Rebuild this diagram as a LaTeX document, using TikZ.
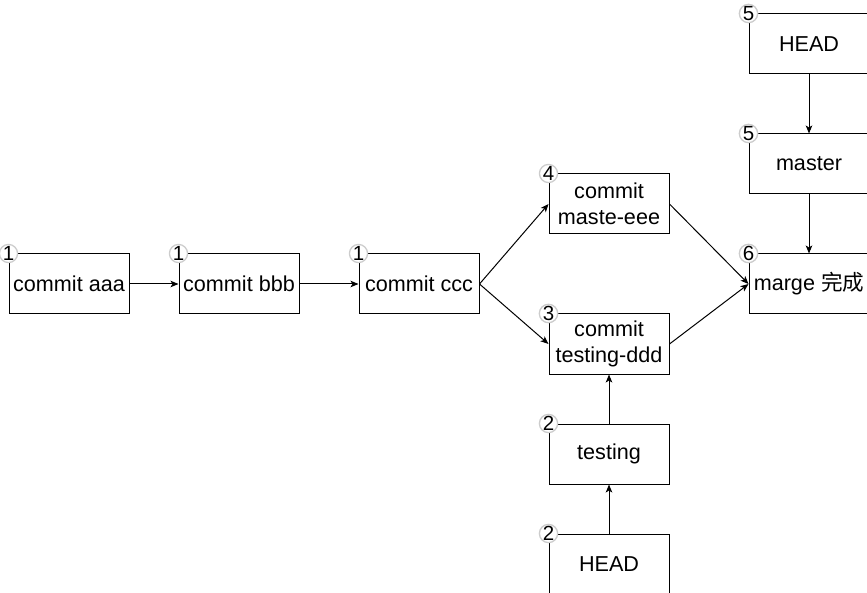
\documentclass[tikz,border=0pt]{standalone}
\usepackage{fontspec}
\setmainfont{Liberation Sans}
\newfontfamily\cjk{Noto Sans CJK SC}
\usetikzlibrary{arrows.meta}
\begin{document}
\begin{tikzpicture}[x=1pt,y=-1pt,
  box/.style={draw=black,line width=1pt,fill=white,minimum width=120pt,minimum height=60pt,inner sep=0pt,align=center,font=\fontsize{21.6}{25.5}\selectfont},
  num/.style={circle,draw=black!20,line width=1.3pt,fill=white,minimum size=16pt,inner sep=0pt,font=\fontsize{20.5}{20.5}\selectfont},
  arr/.style={line width=1pt,-{Stealth[length=8pt,width=6.5pt,inset=2pt]}}]
\clip (0,0) rectangle (867,593);
\fill[white] (0,0) rectangle (867,593);
\node[box] (aaa) at (69,284) {commit aaa};
\node[box] (bbb) at (239,284) {commit bbb};
\node[box] (ccc) at (419,284) {commit ccc};
\node[box] (eee) at (609,204) {commit\\maste-eee};
\node[box] (ddd) at (609,344) {commit\\testing-ddd};
\node[box] (tst) at (609,454) {testing};
\node[box] (headb) at (609,564) {HEAD};
\node[box] (headt) at (809,44) {HEAD};
\node[box] (mst) at (809,164) {master};
\node[box] (mrg) at (809,284) {marge {\cjk 完成}};
\node[num] (naaa) at (aaa.north west) {1};
\node[num] (nbbb) at (bbb.north west) {1};
\node[num] (nccc) at (ccc.north west) {1};
\node[num] (neee) at (eee.north west) {4};
\node[num] (nddd) at (ddd.north west) {3};
\node[num] (ntst) at (tst.north west) {2};
\node[num] (nheadb) at (headb.north west) {2};
\node[num] (nheadt) at (headt.north west) {5};
\node[num] (nmst) at (mst.north west) {5};
\node[num] (nmrg) at (mrg.north west) {6};
\draw[arr] (aaa.east) -- (bbb.west);
\draw[arr] (bbb.east) -- (ccc.west);
\draw[arr] (ccc.east) -- (eee.west);
\draw[arr] (ccc.east) -- (ddd.west);
\draw[arr] (eee.east) -- (mrg.west);
\draw[arr] (ddd.east) -- (mrg.west);
\draw[arr] (headb.north) -- (tst.south);
\draw[arr] (tst.north) -- (ddd.south);
\draw[arr] (headt.south) -- (mst.north);
\draw[arr] (mst.south) -- (mrg.north);
\end{tikzpicture}
\end{document}
